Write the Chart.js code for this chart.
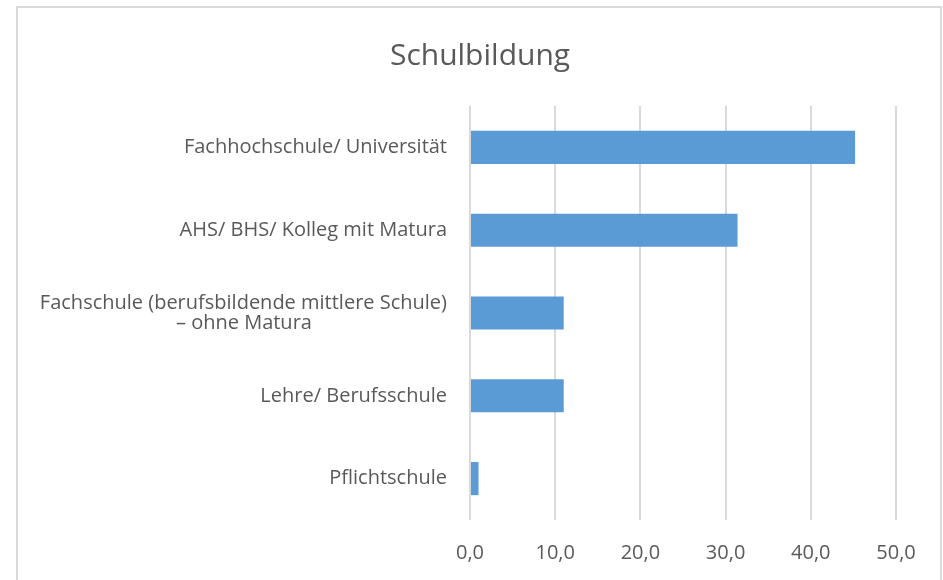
<!DOCTYPE html>
<html>
<head>
<meta charset="utf-8">
<script src="https://cdn.jsdelivr.net/npm/chart.js@4/dist/chart.umd.min.js"></script>
<style>
  html, body { margin: 0; padding: 0; background: #fff; }
  #wrap { position: relative; width: 943px; height: 580px; overflow: hidden; }
  #frame { position: absolute; left: 16px; top: 6px; width: 926px; height: 600px;
           border: 2px solid #d9d9d9; box-sizing: border-box; pointer-events: none; }
  canvas { position: absolute; left: 0; top: 0; }
</style>
</head>
<body>
<div id="wrap">
  <canvas id="chart" width="943" height="580"></canvas>
  <div id="frame"></div>
</div>
<script>
// Daten (von oben nach unten)
const categories = [
  "Fachhochschule/ Universität",
  "AHS/ BHS/ Kolleg mit Matura",
  ["Fachschule (berufsbildende mittlere Schule)", "– ohne Matura"],
  "Lehre/ Berufsschule",
  "Pflichtschule"
];
const values = [45.2, 31.4, 11.0, 11.0, 1.0];
const tickValues = [0, 10, 20, 30, 40, 50];

const fam = "'Open Sans', sans-serif";
const yFont = { family: fam, size: 20, lineHeight: 0.98 };
const xFont = { family: fam, size: 20, lineHeight: 1.2 };
const textColor = "#595959";

// zweite Zeile unter der ersten zentrieren (Labels sind rechtsbündig)
function centerLines(label) {
  if (!Array.isArray(label)) return label;
  const c = document.createElement("canvas").getContext("2d");
  c.font = yFont.size + "px " + fam;
  const w1 = c.measureText(label[0]).width;
  const w2 = c.measureText(label[1]).width;
  const sp = c.measureText("\u00a0").width;
  const n = Math.round((w1 - w2) / 2 / sp);
  return [label[0], label[1] + "\u00a0".repeat(n)];
}
const labels = categories.map(centerLines);

new Chart(document.getElementById("chart"), {
  type: "bar",
  data: {
    labels: labels,
    datasets: [{
      data: values,
      backgroundColor: "#5b9bd5",
      borderWidth: 0,
      barPercentage: 0.4,
      categoryPercentage: 1.0
    }]
  },
  options: {
    indexAxis: "y",
    responsive: false,
    animation: false,
    // links 17, rechts leere Achse (47px) -> Titel bei x=480
    layout: { padding: { left: 17, right: 0, top: 0, bottom: 0 } },
    plugins: {
      legend: { display: false },
      tooltip: { enabled: false },
      title: {
        display: true,
        text: "Schulbildung",
        color: textColor,
        font: { family: fam, size: 30, weight: "normal", lineHeight: 1.2 },
        padding: { top: 38, bottom: 32 }
      }
    },
    scales: {
      x: {
        min: 0,
        max: 50,
        afterBuildTicks: (s) => { s.ticks = tickValues.map(v => ({ value: v })); },
        afterFit: (s) => { s.height = 60; },
        grid: { color: "#d9d9d9", lineWidth: 2, drawTicks: false },
        border: { display: false },
        ticks: {
          color: textColor,
          font: xFont,
          padding: 21,
          callback: (v) => v.toFixed(1).replace(".", ",")
        }
      },
      y: {
        afterFit: (s) => { s.width = 453; },
        grid: { display: false, drawTicks: false },
        border: { display: false },
        ticks: {
          color: textColor,
          font: yFont,
          padding: 23,
          autoSkip: false
        }
      },
      yRight: {
        type: "category",
        position: "right",
        afterFit: (s) => { s.width = 47; },
        grid: { display: false, drawTicks: false },
        border: { display: false },
        ticks: { display: false }
      }
    }
  }
});
</script>
</body>
</html>
